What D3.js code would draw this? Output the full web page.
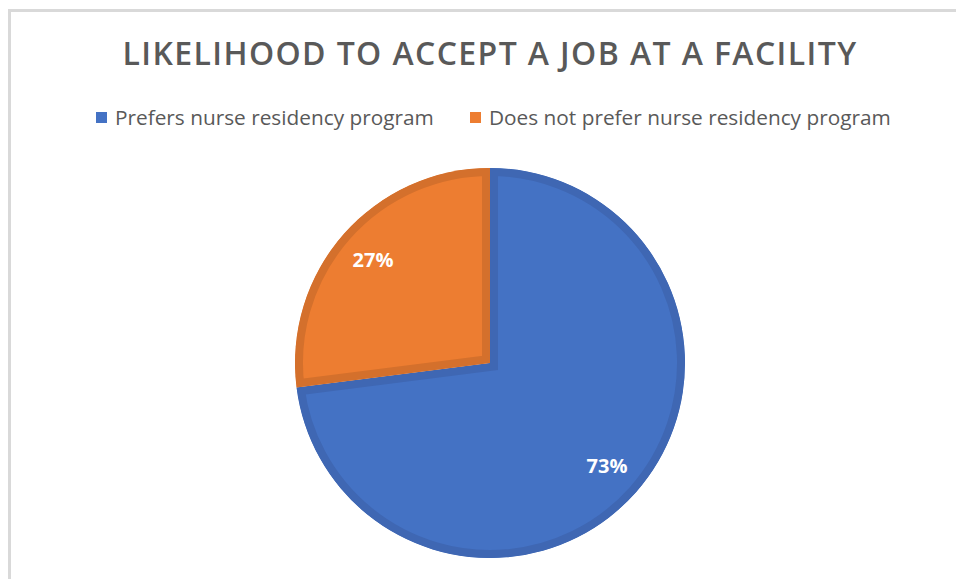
<!DOCTYPE html>
<html>
<head>
<meta charset="utf-8">
<script src="https://cdn.jsdelivr.net/npm/d3@7"></script>
<style>
  body { margin: 0; background: #fff; }
  svg { display: block; }
</style>
</head>
<body>
<svg id="chart" width="956" height="579"></svg>
<script>
const titleText = 'LIKELIHOOD TO ACCEPT A JOB AT A FACILITY';
const categories = ['Prefers nurse residency program', 'Does not prefer nurse residency program'];
const values = [73, 27];
const colors = ['#4472C4', '#ED7D31'];
const edgeColors = ['#3F67B3', '#D4702C'];

const svg = d3.select('#chart');

// chart frame
svg.append('rect')
  .attr('x', 9.5).attr('y', 10.5)
  .attr('width', 1000).attr('height', 1000)
  .attr('fill', 'none').attr('stroke', '#d9d9d9').attr('stroke-width', 3);

svg.append('text')
  .attr('x', 490).attr('y', 65)
  .attr('text-anchor', 'middle')
  .attr('font-family', 'Open Sans')
  .attr('font-weight', 600)
  .attr('font-size', 32)
  .attr('letter-spacing', 1.4)
  .attr('fill', '#595959')
  .text(titleText);

// legend
const legendX = [96, 470];
const legend = svg.selectAll('.leg').data(categories).enter().append('g')
  .attr('class', 'leg')
  .attr('transform', (d, i) => `translate(${legendX[i]}, 118)`);
legend.append('rect')
  .attr('x', 0).attr('y', -6).attr('width', 11).attr('height', 11)
  .attr('fill', (d, i) => colors[i]);
legend.append('text')
  .attr('x', 19).attr('y', 7)
  .attr('font-family', 'Open Sans')
  .attr('font-size', 20.8)
  .attr('fill', '#595959')
  .text(d => d);

// pie
const cx = 490, cy = 363, r = 195;
const pie = d3.pie().sort(null).value(d => d)(values);
const arc = d3.arc().innerRadius(0).outerRadius(r);
const labelArc = d3.arc().innerRadius(r * 0.8).outerRadius(r * 0.8);

const g = svg.append('g').attr('transform', `translate(${cx},${cy})`);
const defs = svg.append('defs');
pie.forEach((p, i) => {
  defs.append('clipPath').attr('id', 'clip' + i)
    .append('path').attr('d', arc(p));
});

g.selectAll('.slice').data(pie).enter().append('path')
  .attr('class', 'slice')
  .attr('d', arc)
  .attr('fill', (d, i) => colors[i])
  .attr('stroke', (d, i) => edgeColors[i])
  .attr('stroke-width', 16)
  .attr('clip-path', (d, i) => `url(#clip${i})`);

g.selectAll('.lbl').data(pie).enter().append('text')
  .attr('class', 'lbl')
  .attr('transform', d => `translate(${labelArc.centroid(d)})`)
  .attr('text-anchor', 'middle')
  .attr('dy', '0.35em')
  .attr('font-family', 'Open Sans')
  .attr('font-weight', 700)
  .attr('font-size', 20)
  .attr('fill', '#fff')
  .text(d => d.data + '%');
</script>
</body>
</html>
